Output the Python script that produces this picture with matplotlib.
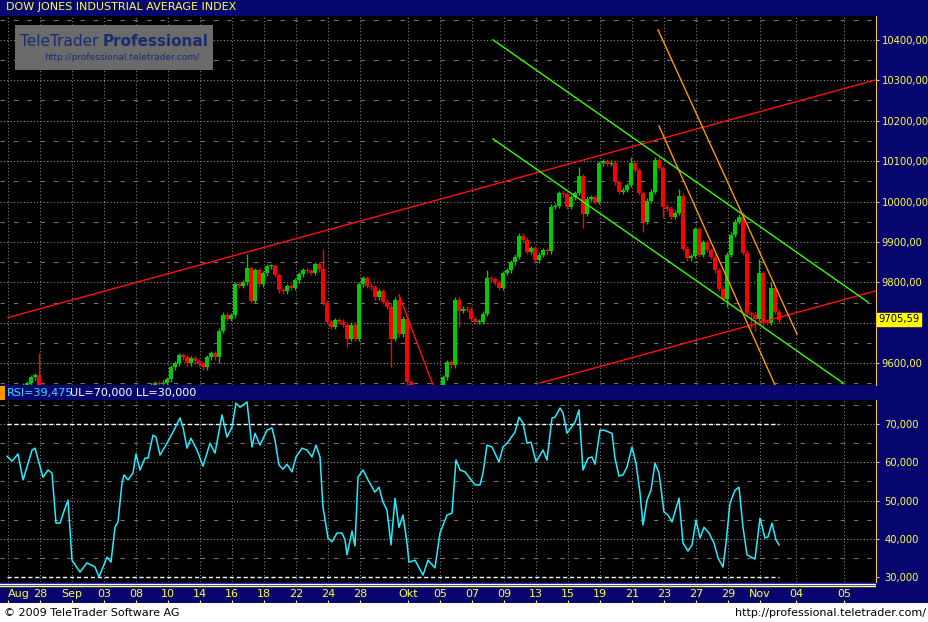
import matplotlib
matplotlib.use("Agg")
import matplotlib.pyplot as plt
from matplotlib.patches import Rectangle
import numpy as np

# closing prices, one per candle (hourly-ish bars), open = previous close
closes = [
    9530, 9535, 9540, 9530, 9545, 9550, 9565, 9570, 9545, 9540,
    9535, 9540, 9530, 9525, 9520, 9530, 9535, 9520, 9510, 9500,
    9490, 9495, 9485, 9480, 9490, 9500, 9495, 9505, 9500, 9510,
    9505, 9515, 9520, 9525, 9530, 9535, 9545, 9550, 9548, 9552,
    9560, 9590, 9600, 9620, 9615, 9600, 9612, 9605, 9600, 9590,
    9615, 9625, 9615, 9680, 9720, 9710, 9718, 9795, 9792, 9800,
    9835, 9755, 9830, 9795, 9822, 9840, 9840, 9818, 9780, 9778,
    9790, 9786, 9805, 9820, 9830, 9828, 9823, 9845, 9832, 9750,
    9702, 9690, 9707, 9703, 9695, 9660, 9695, 9660, 9795, 9810,
    9792, 9788, 9763, 9778, 9752, 9740, 9660, 9757, 9672, 9710,
    9553, 9530, 9535, 9520, 9500, 9490, 9505, 9515, 9540, 9565,
    9603, 9595, 9757, 9730, 9735, 9732, 9710, 9702, 9703, 9722,
    9810, 9808, 9800, 9786, 9823, 9830, 9850, 9863, 9915, 9905,
    9875, 9885, 9855, 9868, 9880, 9877, 9987, 9990, 10021, 10018,
    9987, 10010, 10021, 10063, 9970, 10007, 10010, 10000, 10095, 10100,
    10093, 10096, 10048, 10024, 10029, 10041, 10095, 10078, 10021, 9950,
    10002, 10024, 10103, 10083, 9987, 9982, 9962, 9972, 10014, 9883,
    9860, 9865, 9932, 9868, 9900, 9880, 9863, 9830, 9784, 9760,
    9868, 9918, 9950, 9962, 9873, 9724, 9720, 9710, 9823, 9702,
    9700, 9786, 9727, 9706,
]
first_open = 9525
# notable wick extremes (candle index -> price)
highs_extra = {8: 9625, 60: 9870, 79: 9883, 120: 9830, 143: 10085, 156: 10110,
               162: 10110, 168: 10030, 184: 9975, 188: 9858, 191: 9800}
lows_extra = {53: 9600, 85: 9640, 96: 9590, 100: 9520, 113: 9690, 144: 9935,
              159: 9925, 164: 9960, 180: 9740, 186: 9688, 187: 9680, 189: 9690}
last_price = "9705,59"

# RSI samples (candle index, value)
rsi_k = [0, 1.25, 2.75, 4, 5, 6.25, 7, 9, 10.25, 11.25, 12.25, 13.25, 14.5, 15.25,
         16.25, 18.25, 20, 22, 23, 25, 26, 27, 27.75, 28.75, 29.25, 30.25, 31.5,
         32.25, 33.25, 34.5, 35.25, 36.5, 37.25, 38.25, 40, 41.5, 43.25, 44, 45,
         46, 47.5, 49, 50.75, 52, 53.75, 55, 56.25, 57.25, 58.25, 60, 61.25, 62,
         63.25, 65, 66.25, 67, 68, 69, 70, 71.25, 72.25, 73.75, 75, 76.25, 77.25,
         78.25, 79, 80.25, 81.25, 82.5, 83.75, 84.5, 85, 86.25, 87, 87.75, 89,
         90.25, 92, 93, 94, 95, 96, 97, 98, 99, 100, 100.5, 102, 104, 105.25, 107,
         108.25, 110, 111.25, 112.25, 113.25, 114.5, 117, 118.25, 119, 120,
         121.25, 123, 124, 125.25, 127, 128, 129, 130, 131, 132.25, 134, 135,
         136.25, 137, 138.25, 139, 140, 142, 143, 144, 145.25, 146.25, 147,
         148.25, 149.25, 151.25, 152, 153, 154, 155, 156.25, 157.25, 158.25, 159,
         160, 161, 162, 163, 164.25, 165.25, 166.25, 168, 169, 170.25, 171.25,
         172.25, 173.25, 174.25, 175.5, 176.75, 177.75, 179, 179.75, 180.75, 182,
         183, 184, 185, 187, 188.25, 189.5, 190.25, 191.25, 192.25, 193]
rsi_v = [61.6, 60.3, 62.2, 55.4, 58.8, 63.2, 63.7, 56.1, 58.0, 57.2, 44.1, 44.1,
         48.0, 50.1, 34.4, 31.3, 33.7, 32.6, 30.0, 35.2, 33.9, 43.0, 44.4, 54.6,
         56.7, 55.4, 57.2, 62.2, 58.0, 61.1, 61.1, 67.1, 66.6, 61.9, 65.0, 67.9,
         71.6, 69.2, 63.7, 66.3, 63.2, 59.0, 65.0, 62.4, 72.4, 66.6, 69.2, 75.5,
         74.4, 75.8, 64.0, 67.6, 64.5, 68.4, 69.0, 65.8, 59.3, 58.2, 59.5, 57.5,
         61.4, 63.7, 63.2, 61.4, 64.5, 61.4, 48.3, 40.2, 39.2, 41.5, 41.5, 39.7,
         35.8, 42.0, 38.1, 56.1, 58.0, 55.4, 52.2, 53.5, 49.6, 47.5, 38.4, 50.6,
         43.0, 46.2, 38.9, 33.9, 34.4, 30.5, 34.4, 32.4, 41.5, 46.2, 46.7, 60.6,
         58.0, 57.5, 54.1, 54.1, 57.2, 64.5, 64.0, 60.1, 64.0, 65.3, 67.9, 71.8,
         70.3, 65.0, 65.3, 60.1, 63.2, 60.6, 71.6, 71.8, 74.2, 72.9, 67.6, 70.5,
         73.7, 58.0, 61.1, 61.4, 59.5, 68.4, 68.4, 67.6, 61.1, 56.4, 56.7, 58.8,
         64.0, 59.8, 52.0, 43.6, 50.1, 52.7, 59.8, 57.2, 47.0, 46.2, 44.4, 50.6,
         38.9, 36.8, 38.4, 44.9, 40.2, 43.0, 41.5, 38.9, 35.0, 32.6, 38.9, 49.3,
         52.7, 53.5, 43.0, 35.8, 34.7, 45.4, 40.2, 40.5, 44.1, 39.7, 38.4]

# drawn trend lines: (k0, p0, k1, p1, colour)
trend_lines = [
    (0.25, 9713, 217.25, 10301, "#ff1010"),
    (133.25, 9551, 217.25, 9779, "#ff1010"),
    (121.5, 10400, 215.25, 9751, "#33ff00"),
    (121.5, 10155, 209.0, 9551, "#33ff00"),
    (162.75, 10425, 197.5, 9672, "#ff9900"),
    (163.0, 10187, 192.0, 9546, "#ff9900"),
    (98.0, 9769, 106.5, 9546, "#ff1010"),
]

tick_pos = [0.25, 8.25, 16.25, 24.25, 32.25, 40.25, 48.25, 56.25, 64.25, 72.25,
            80.25, 88.25, 100.25, 108.25, 116.25, 124.25, 132.25, 140.25, 148.25,
            156.25, 164.25, 172.25, 180.25, 188.25, 197.25, 209.25]
tick_lab = ["Aug", "28", "Sep", "03", "08", "10", "14", "16", "18", "22", "24",
            "28", "Okt", "05", "07", "09", "13", "15", "19", "21", "23", "27",
            "29", "Nov", "04", "05"]
price_ticks = [9600, 9700, 9800, 9900, 10000, 10100, 10200, 10300, 10400]
rsi_ticks = [30, 40, 50, 60, 70]

W, H = 929, 622
NAVY = "#06066e"
YEL = "#ffff40"
plt.rcParams["font.family"] = ["DejaVu Sans"]
fig = plt.figure(figsize=(W / 100, H / 100), dpi=100, facecolor=NAVY)


def frac(x0, y0, x1, y1):
    return [x0 / W, 1 - y1 / H, (x1 - x0) / W, (y1 - y0) / H]


xlim = (-1.75, 217.25)

# price panel
ax = fig.add_axes(frac(0, 16, 876, 385), facecolor="black")
ax.set_xlim(*xlim)
ax.set_ylim(9546, 10459)
for p in range(9550, 10460, 50):
    if p % 100 == 0:
        ax.axhline(p, color="#909090", lw=0.8, ls=(0, (1, 2)), zorder=0)
    else:
        ax.axhline(p, color="#707070", lw=0.8, ls=(0, (4, 8)), zorder=0)
for t in tick_pos:
    ax.axvline(t, color="#808080", lw=0.8, ls=(0, (1, 2)), zorder=0)

opens = [first_open] + closes[:-1]
for k, (o, c) in enumerate(zip(opens, closes)):
    col = "#00cc00" if c >= o else "#ff0000"
    hi = highs_extra.get(k, max(o, c) + 6)
    lo = lows_extra.get(k, min(o, c) - 6)
    ax.vlines(k, lo, hi, color=col, lw=1, zorder=2)
    h = max(abs(c - o), 2)
    ax.bar(k, h, bottom=min(o, c), width=0.8, color=col, zorder=3, linewidth=0)

for k0, p0, k1, p1, col in trend_lines:
    ax.plot([k0, k1], [p0, p1], color=col, lw=1, zorder=4)

ax.yaxis.tick_right()
ax.set_yticks(price_ticks)
ax.set_yticklabels(["" if p == 9700 else f"{p},00" for p in price_ticks],
                   color=YEL, fontsize=7.2)
ax.tick_params(axis="y", length=2, color="#c0c0c0", pad=2)
ax.set_xticks([])
for s in ["top", "bottom", "left"]:
    ax.spines[s].set_visible(False)
ax.spines["right"].set_color("#e8c060")
ax.text(1.003, (9709 - 9546) / (10459 - 9546), last_price, transform=ax.transAxes,
        fontsize=7.2, color="black", va="center", ha="left",
        bbox=dict(boxstyle="square,pad=0.15", fc="#ffff00", ec="#ffff00"))

# watermark
ax.add_patch(Rectangle((15 / 876, 1 - 54 / 369), 198 / 876, 45 / 369,
                       transform=ax.transAxes, fc="#6b6b6b", ec="none", zorder=1))
ax.text(103 / 876, 1 - 25 / 369, "TeleTrader ", transform=ax.transAxes,
        fontsize=11, color="#1c2a6e", ha="right", va="center", zorder=2)
ax.text(103 / 876, 1 - 25 / 369, "Professional", transform=ax.transAxes,
        fontsize=11, color="#1c2a6e", ha="left", va="center", weight="bold",
        zorder=2)
ax.text(122 / 876, 1 - 42 / 369, "http://professional.teletrader.com/",
        transform=ax.transAxes, fontsize=6.5, color="#1c2a6e", ha="center",
        va="center", zorder=2)

# title
fig.text(6 / W, 1 - 7.5 / H, "DOW JONES INDUSTRIAL AVERAGE INDEX", color=YEL,
         fontsize=8, va="center")

# RSI header
fig.patches.append(Rectangle((0, 1 - 400 / H), 5 / W, 14 / H,
                             transform=fig.transFigure, fc="#ff9900", ec="none"))
fig.text(7 / W, 1 - 393 / H, "RSI=39,475", color="#33ddff", fontsize=8,
         va="center")
fig.text(70 / W, 1 - 393 / H, "UL=70,000 LL=30,000", color="white", fontsize=8,
         va="center")

# RSI panel
ar = fig.add_axes(frac(0, 400, 876, 582), facecolor="black")
ar.set_xlim(*xlim)
ar.set_ylim(28.7, 76.3)
for r in range(35, 76, 5):
    if r % 10 == 0:
        ar.axhline(r, color="#909090", lw=0.8, ls=(0, (1, 2)), zorder=0)
    else:
        ar.axhline(r, color="#707070", lw=0.8, ls=(0, (4, 8)), zorder=0)
for t in tick_pos:
    ar.axvline(t, color="#808080", lw=0.8, ls=(0, (1, 2)), zorder=0)
ar.plot([0, 193], [70, 70], color="white", lw=1, ls=(0, (3, 2)), zorder=1)
ar.plot([0, 193], [30, 30], color="white", lw=1, ls=(0, (3, 2)), zorder=1)
ar.plot(rsi_k, rsi_v, color="#22eeff", lw=1.1, zorder=3)
ar.yaxis.tick_right()
ar.set_yticks(rsi_ticks)
ar.set_yticklabels([f"{r},000" for r in rsi_ticks], color=YEL, fontsize=7.2)
ar.tick_params(axis="y", length=2, color="#c0c0c0", pad=4)
ar.set_xticks([])
for s in ["top", "bottom", "left"]:
    ar.spines[s].set_visible(False)
ar.spines["right"].set_color("#e8c060")

# date axis
ad = fig.add_axes(frac(0, 583, 876, 603), facecolor=NAVY)
ad.set_xlim(*xlim)
ad.set_ylim(0, 1)
ad.axhline(0.97, color="white", lw=1)
ad.axhline(0.87, color="#ffff80", lw=1)
ad.set_yticks([])
ad.set_xticks(tick_pos)
labels = ad.set_xticklabels(tick_lab, color=YEL, fontsize=8)
labels[0].set_horizontalalignment("left")
ad.tick_params(axis="x", direction="in", pad=-10, length=2, color=YEL)
for s in ad.spines.values():
    s.set_visible(False)

# footer
fig.patches.append(Rectangle((0, 0), 1, 19 / H, transform=fig.transFigure,
                             fc="white", ec="none"))
fig.text(4 / W, 9 / H, "© 2009 TeleTrader Software AG", fontsize=8, va="center")
fig.text(926 / W, 9 / H, "http://professional.teletrader.com/", fontsize=8,
         va="center", ha="right")

fig.savefig("out.png", dpi=100, facecolor=NAVY)
